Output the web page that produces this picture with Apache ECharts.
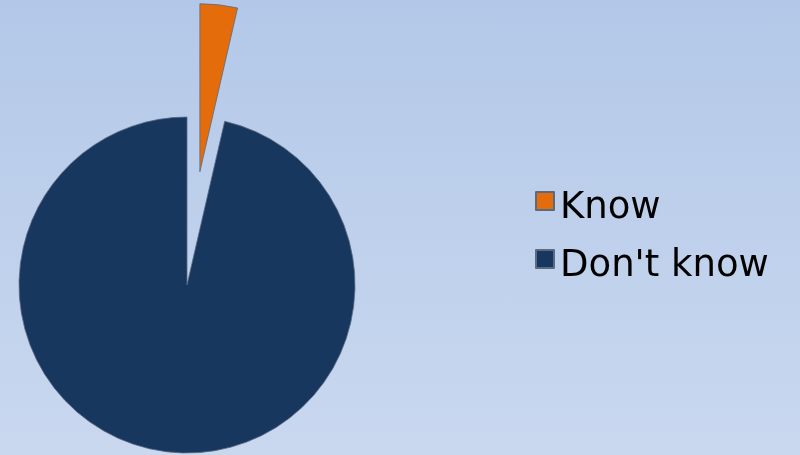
<!DOCTYPE html>
<html>
<head>
<meta charset="utf-8">
<script src="https://cdn.jsdelivr.net/npm/echarts@6/dist/echarts.min.js"></script>
<style>
html,body{margin:0;padding:0;}
#c{width:800px;height:455px;background:linear-gradient(to bottom,#b3c8e8,#c9d8ef);}
</style>
</head>
<body>
<div id="c"></div>
<script>
const categories = ["Know", "Don't know"];
const values = [3.6, 96.4];
const colors = ["#e46c0a", "#17375e"];

const chart = echarts.init(document.getElementById('c'), null, {renderer: 'canvas'});
chart.setOption({
  animation: false,
  backgroundColor: 'transparent',
  legend: {
    orient: 'vertical',
    left: 530,
    top: 170,
    icon: 'rect',
    itemWidth: 18,
    itemHeight: 18,
    itemGap: 6,
    selectedMode: false,
    formatter: '{s|}{t|{name}}',
    textStyle: {
      fontFamily: '"DejaVu Sans", sans-serif', fontSize: 37, color: '#000',
      rich: {
        s: {lineHeight: 52, height: 52, width: 1},
        t: {fontFamily: '"DejaVu Sans", sans-serif', fontSize: 37, color: '#000', lineHeight: 40, verticalAlign: 'bottom'}
      }
    },
    data: categories
  },
  series: [{
    type: 'pie',
    center: [187, 285],
    radius: 168,
    startAngle: 90,
    clockwise: true,
    selectedMode: 'single',
    selectedOffset: 114,
    label: {show: false},
    labelLine: {show: false},
    emphasis: {disabled: true},
    itemStyle: {borderColor: '#5a6a80', borderWidth: 0.8},
    data: categories.map((n, i) => ({
      name: n,
      value: values[i],
      selected: i === 0,
      itemStyle: {color: colors[i]}
    }))
  }]
});
</script>
</body>
</html>
